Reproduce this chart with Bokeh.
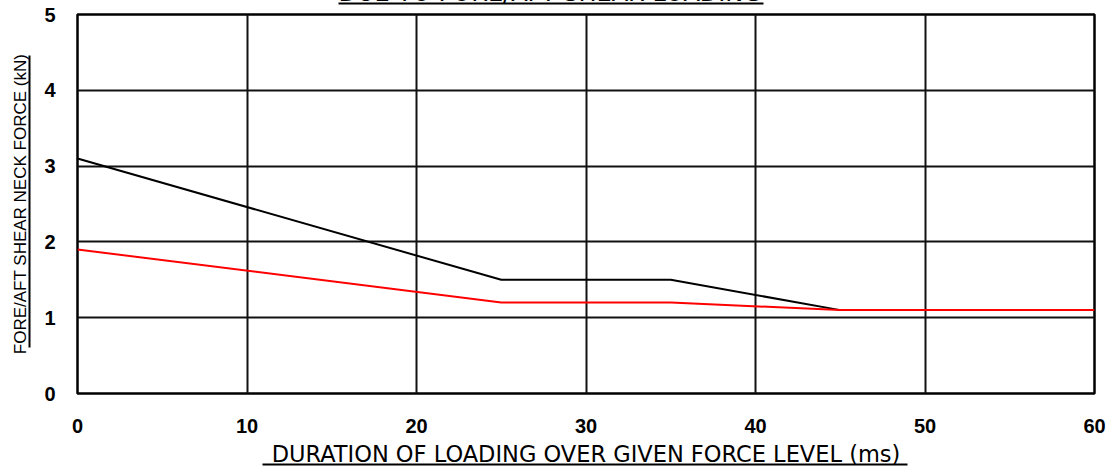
from bokeh.plotting import figure
from bokeh.models import Range1d, FixedTicker, LinearAxis
from bokeh.embed import file_html
from bokeh.resources import INLINE

# Data
duration_ms = [0, 25, 35, 45, 60]
upper_limit_kN = [3.1, 1.5, 1.5, 1.1, 1.1]
lower_limit_kN = [1.9, 1.2, 1.2, 1.1, 1.1]
x_ticks = [0, 10, 20, 30, 40, 50, 60]
y_ticks = [0, 1, 2, 3, 4, 5]
title_text = "DUE TO FORE/AFT SHEAR LOADING"
x_label = "DURATION OF LOADING OVER GIVEN FORCE LEVEL (ms)"
y_label = "FORE/AFT SHEAR NECK FORCE (kN)"

TOP = 40          # reserved top border (partly hidden above the window)
SHIFT = TOP - 14  # frame top lands at y=14 in the window

p = figure(width=1114, height=471 + SHIFT, output_backend="svg", toolbar_location=None,
           x_range=Range1d(0, 60), y_range=Range1d(0, 5),
           x_axis_location=None, y_axis_location=None,
           min_border_left=77, min_border_right=20, min_border_top=TOP, min_border_bottom=78)
p.styles = {"margin-top": f"-{SHIFT}px"}
p.background_fill_color = "white"
p.border_fill_color = "white"
p.outline_line_color = "black"
p.outline_line_width = 2.5


def line_axis(bounds, label=None, font="DejaVu Sans", size="21px", standoff=0):
    # axis drawn only as a bounded line (an underline) with its label
    ax = LinearAxis(ticker=FixedTicker(ticks=[]), axis_line_color="black", axis_line_width=2,
                    bounds=bounds, major_tick_in=0, major_tick_out=0,
                    minor_tick_in=0, minor_tick_out=0,
                    major_tick_line_color=None, minor_tick_line_color=None,
                    major_label_standoff=0)
    if label:
        ax.axis_label = label
        ax.axis_label_text_font = font
        ax.axis_label_text_font_size = size
        ax.axis_label_text_font_style = "normal"
        ax.axis_label_text_color = "black"
        ax.axis_label_standoff = standoff
    return ax


def spacer_axis(tick, size):
    # invisible axis that only reserves `size` pixels
    return LinearAxis(ticker=FixedTicker(ticks=[tick]), axis_line_color=None,
                      major_tick_in=-3, major_tick_out=size, major_tick_line_color="white",
                      major_tick_line_width=1, minor_tick_in=0, minor_tick_out=0,
                      minor_tick_line_color=None, major_label_standoff=0,
                      major_label_text_color=None, major_label_text_font_size="1px")


def tick_axis(ticks, standoff):
    return LinearAxis(ticker=FixedTicker(ticks=ticks), axis_line_color=None,
                      major_tick_in=0, major_tick_out=0, minor_tick_in=0, minor_tick_out=0,
                      minor_tick_line_color=None, major_label_standoff=standoff,
                      major_label_text_font="Liberation Sans", major_label_text_font_size="20px",
                      major_label_text_font_style="bold", major_label_text_color="black")


# x axis: tick labels, spacer, underline with its label drawn just above it
p.add_layout(tick_axis(x_ticks, 25), "below")
p.add_layout(spacer_axis(0, 29), "below")
p.add_layout(line_axis((10.91, 48.97), x_label, "DejaVu Sans", "22.5px", -24), "below")

# y axis: tick labels, spacer, underline + axis label
p.add_layout(tick_axis(y_ticks, 22), "left")
p.add_layout(spacer_axis(0, 12), "left")
p.add_layout(line_axis((0.607, 4.459), y_label, "Liberation Sans", "17px", 0), "left")

# title underline: spacer then line; the title itself sits above it
p.add_layout(spacer_axis(5, 11), "above")
p.add_layout(line_axis((15.40, 40.47)), "above")
p.title.text = title_text
p.title.align = "left"
p.title.offset = 261
p.title.standoff = -6
p.title.vertical_align = "bottom"
p.title.text_font = "DejaVu Sans"
p.title.text_font_size = "24px"
p.title.text_font_style = "normal"
p.title.text_color = "black"

p.xgrid.ticker = FixedTicker(ticks=x_ticks)
p.ygrid.ticker = FixedTicker(ticks=y_ticks)
for g in (p.xgrid[0], p.ygrid[0]):
    g.grid_line_color = "#111111"
    g.grid_line_width = 2

p.line(duration_ms, upper_limit_kN, line_color="black", line_width=2)
p.line(duration_ms, lower_limit_kN, line_color="#ff0000", line_width=2)

open("out.html", "w").write(file_html(p, INLINE))
